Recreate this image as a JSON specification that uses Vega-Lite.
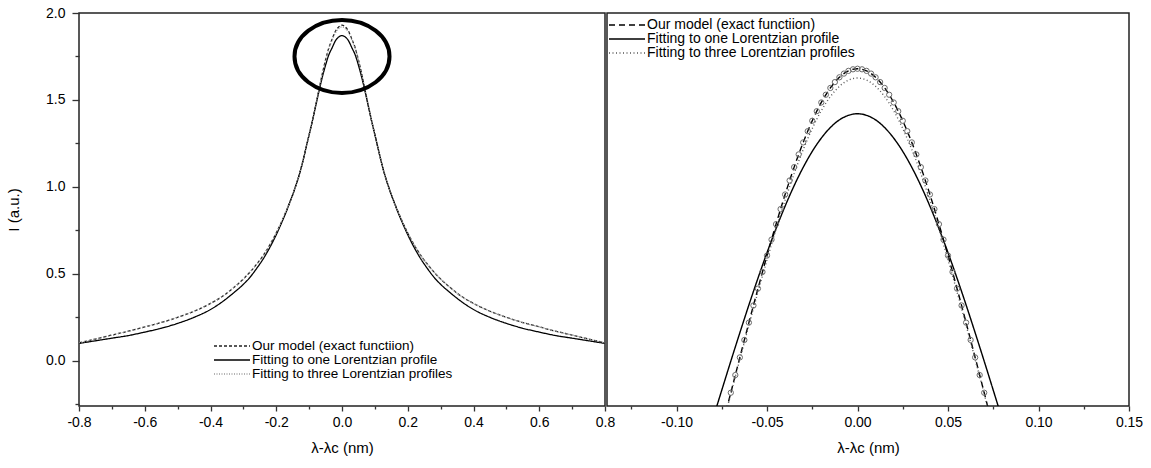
{
"$schema": "https://vega.github.io/schema/vega-lite/v6.json",
"background": "white",
"padding": {"left": 5, "top": 5, "right": 5, "bottom": 5},
"bounds": "flush",
"spacing": 2,
"config": {
  "font": "Liberation Sans",
  "view": {"stroke": "#222222", "strokeWidth": 1.5},
  "axis": {"labelFont": "Liberation Sans", "labelFontSize": 14, "labelColor": "#000000", "titleFont": "Liberation Sans", "titleFontSize": 15, "titleFontWeight": "normal", "titleColor": "#000000", "tickColor": "#333333", "tickWidth": 1.3, "domain": false, "grid": false},
  "legend": {"labelFont": "Liberation Sans", "labelColor": "#000000"}
},
"datasets": {
  "left": [
    {"s":"E","x":-0.8,"I":0.103},{"s":"E","x":-0.75,"I":0.125},{"s":"E","x":-0.7,"I":0.148},{"s":"E","x":-0.65,"I":0.17},{"s":"E","x":-0.6,"I":0.195},{"s":"E","x":-0.55,"I":0.22},{"s":"E","x":-0.5,"I":0.25},{"s":"E","x":-0.45,"I":0.285},{"s":"E","x":-0.4,"I":0.33},{"s":"E","x":-0.36,"I":0.375},{"s":"E","x":-0.33,"I":0.42},{"s":"E","x":-0.3,"I":0.47},{"s":"E","x":-0.28,"I":0.51},{"s":"E","x":-0.26,"I":0.555},{"s":"E","x":-0.24,"I":0.605},{"s":"E","x":-0.22,"I":0.665},{"s":"E","x":-0.2,"I":0.735},{"s":"E","x":-0.18,"I":0.815},{"s":"E","x":-0.17,"I":0.86},{"s":"E","x":-0.16,"I":0.905},{"s":"E","x":-0.15,"I":0.955},{"s":"E","x":-0.14,"I":1.01},{"s":"E","x":-0.13,"I":1.07},{"s":"E","x":-0.12,"I":1.14},{"s":"E","x":-0.11,"I":1.22},{"s":"E","x":-0.1,"I":1.3},{"s":"E","x":-0.09,"I":1.38},{"s":"E","x":-0.08,"I":1.47},{"s":"E","x":-0.07,"I":1.56},{"s":"E","x":-0.06,"I":1.65},{"s":"E","x":-0.05,"I":1.73},{"s":"E","x":-0.04,"I":1.8},{"s":"E","x":-0.03,"I":1.85},{"s":"E","x":-0.02,"I":1.895},{"s":"E","x":-0.01,"I":1.92},{"s":"E","x":0,"I":1.93},
    {"s":"E","x":0.01,"I":1.92},{"s":"E","x":0.02,"I":1.895},{"s":"E","x":0.03,"I":1.85},{"s":"E","x":0.04,"I":1.8},{"s":"E","x":0.05,"I":1.73},{"s":"E","x":0.06,"I":1.65},{"s":"E","x":0.07,"I":1.56},{"s":"E","x":0.08,"I":1.47},{"s":"E","x":0.09,"I":1.38},{"s":"E","x":0.1,"I":1.3},{"s":"E","x":0.11,"I":1.22},{"s":"E","x":0.12,"I":1.14},{"s":"E","x":0.13,"I":1.07},{"s":"E","x":0.14,"I":1.01},{"s":"E","x":0.15,"I":0.955},{"s":"E","x":0.16,"I":0.905},{"s":"E","x":0.17,"I":0.86},{"s":"E","x":0.18,"I":0.815},{"s":"E","x":0.2,"I":0.735},{"s":"E","x":0.22,"I":0.665},{"s":"E","x":0.24,"I":0.605},{"s":"E","x":0.26,"I":0.555},{"s":"E","x":0.28,"I":0.51},{"s":"E","x":0.3,"I":0.47},{"s":"E","x":0.33,"I":0.42},{"s":"E","x":0.36,"I":0.375},{"s":"E","x":0.4,"I":0.33},{"s":"E","x":0.45,"I":0.285},{"s":"E","x":0.5,"I":0.25},{"s":"E","x":0.55,"I":0.22},{"s":"E","x":0.6,"I":0.195},{"s":"E","x":0.65,"I":0.17},{"s":"E","x":0.7,"I":0.148},{"s":"E","x":0.75,"I":0.125},{"s":"E","x":0.8,"I":0.103},
    {"s":"L1","x":-0.8,"I":0.1},{"s":"L1","x":-0.75,"I":0.115},{"s":"L1","x":-0.7,"I":0.13},{"s":"L1","x":-0.65,"I":0.145},{"s":"L1","x":-0.6,"I":0.165},{"s":"L1","x":-0.55,"I":0.187},{"s":"L1","x":-0.5,"I":0.215},{"s":"L1","x":-0.45,"I":0.25},{"s":"L1","x":-0.4,"I":0.295},{"s":"L1","x":-0.36,"I":0.345},{"s":"L1","x":-0.33,"I":0.39},{"s":"L1","x":-0.3,"I":0.44},{"s":"L1","x":-0.28,"I":0.48},{"s":"L1","x":-0.26,"I":0.53},{"s":"L1","x":-0.24,"I":0.585},{"s":"L1","x":-0.22,"I":0.65},{"s":"L1","x":-0.2,"I":0.725},{"s":"L1","x":-0.18,"I":0.81},{"s":"L1","x":-0.17,"I":0.855},{"s":"L1","x":-0.16,"I":0.905},{"s":"L1","x":-0.15,"I":0.955},{"s":"L1","x":-0.14,"I":1.01},{"s":"L1","x":-0.13,"I":1.07},{"s":"L1","x":-0.12,"I":1.14},{"s":"L1","x":-0.11,"I":1.22},{"s":"L1","x":-0.1,"I":1.3},{"s":"L1","x":-0.09,"I":1.38},{"s":"L1","x":-0.08,"I":1.465},{"s":"L1","x":-0.07,"I":1.55},{"s":"L1","x":-0.06,"I":1.63},{"s":"L1","x":-0.05,"I":1.7},{"s":"L1","x":-0.04,"I":1.76},{"s":"L1","x":-0.03,"I":1.8},{"s":"L1","x":-0.02,"I":1.84},{"s":"L1","x":-0.01,"I":1.862},{"s":"L1","x":0,"I":1.87},
    {"s":"L1","x":0.01,"I":1.862},{"s":"L1","x":0.02,"I":1.84},{"s":"L1","x":0.03,"I":1.8},{"s":"L1","x":0.04,"I":1.76},{"s":"L1","x":0.05,"I":1.7},{"s":"L1","x":0.06,"I":1.63},{"s":"L1","x":0.07,"I":1.55},{"s":"L1","x":0.08,"I":1.465},{"s":"L1","x":0.09,"I":1.38},{"s":"L1","x":0.1,"I":1.3},{"s":"L1","x":0.11,"I":1.22},{"s":"L1","x":0.12,"I":1.14},{"s":"L1","x":0.13,"I":1.07},{"s":"L1","x":0.14,"I":1.01},{"s":"L1","x":0.15,"I":0.955},{"s":"L1","x":0.16,"I":0.905},{"s":"L1","x":0.17,"I":0.855},{"s":"L1","x":0.18,"I":0.81},{"s":"L1","x":0.2,"I":0.725},{"s":"L1","x":0.22,"I":0.65},{"s":"L1","x":0.24,"I":0.585},{"s":"L1","x":0.26,"I":0.53},{"s":"L1","x":0.28,"I":0.48},{"s":"L1","x":0.3,"I":0.44},{"s":"L1","x":0.33,"I":0.39},{"s":"L1","x":0.36,"I":0.345},{"s":"L1","x":0.4,"I":0.295},{"s":"L1","x":0.45,"I":0.25},{"s":"L1","x":0.5,"I":0.215},{"s":"L1","x":0.55,"I":0.187},{"s":"L1","x":0.6,"I":0.165},{"s":"L1","x":0.65,"I":0.145},{"s":"L1","x":0.7,"I":0.13},{"s":"L1","x":0.75,"I":0.115},{"s":"L1","x":0.8,"I":0.1},
    {"s":"L3","x":-0.8,"I":0.103},{"s":"L3","x":-0.75,"I":0.125},{"s":"L3","x":-0.7,"I":0.148},{"s":"L3","x":-0.65,"I":0.17},{"s":"L3","x":-0.6,"I":0.195},{"s":"L3","x":-0.55,"I":0.22},{"s":"L3","x":-0.5,"I":0.25},{"s":"L3","x":-0.45,"I":0.285},{"s":"L3","x":-0.4,"I":0.33},{"s":"L3","x":-0.36,"I":0.375},{"s":"L3","x":-0.33,"I":0.42},{"s":"L3","x":-0.3,"I":0.47},{"s":"L3","x":-0.28,"I":0.51},{"s":"L3","x":-0.26,"I":0.555},{"s":"L3","x":-0.24,"I":0.605},{"s":"L3","x":-0.22,"I":0.665},{"s":"L3","x":-0.2,"I":0.735},{"s":"L3","x":-0.18,"I":0.815},{"s":"L3","x":-0.17,"I":0.86},{"s":"L3","x":-0.16,"I":0.905},{"s":"L3","x":-0.15,"I":0.955},{"s":"L3","x":-0.14,"I":1.01},{"s":"L3","x":-0.13,"I":1.07},{"s":"L3","x":-0.12,"I":1.14},{"s":"L3","x":-0.11,"I":1.22},{"s":"L3","x":-0.1,"I":1.3},{"s":"L3","x":-0.09,"I":1.38},{"s":"L3","x":-0.08,"I":1.47},{"s":"L3","x":-0.07,"I":1.56},{"s":"L3","x":-0.06,"I":1.648},{"s":"L3","x":-0.05,"I":1.727},{"s":"L3","x":-0.04,"I":1.795},{"s":"L3","x":-0.03,"I":1.843},{"s":"L3","x":-0.02,"I":1.886},{"s":"L3","x":-0.01,"I":1.91},{"s":"L3","x":0,"I":1.92},
    {"s":"L3","x":0.01,"I":1.91},{"s":"L3","x":0.02,"I":1.886},{"s":"L3","x":0.03,"I":1.843},{"s":"L3","x":0.04,"I":1.795},{"s":"L3","x":0.05,"I":1.727},{"s":"L3","x":0.06,"I":1.648},{"s":"L3","x":0.07,"I":1.56},{"s":"L3","x":0.08,"I":1.47},{"s":"L3","x":0.09,"I":1.38},{"s":"L3","x":0.1,"I":1.3},{"s":"L3","x":0.11,"I":1.22},{"s":"L3","x":0.12,"I":1.14},{"s":"L3","x":0.13,"I":1.07},{"s":"L3","x":0.14,"I":1.01},{"s":"L3","x":0.15,"I":0.955},{"s":"L3","x":0.16,"I":0.905},{"s":"L3","x":0.17,"I":0.86},{"s":"L3","x":0.18,"I":0.815},{"s":"L3","x":0.2,"I":0.735},{"s":"L3","x":0.22,"I":0.665},{"s":"L3","x":0.24,"I":0.605},{"s":"L3","x":0.26,"I":0.555},{"s":"L3","x":0.28,"I":0.51},{"s":"L3","x":0.3,"I":0.47},{"s":"L3","x":0.33,"I":0.42},{"s":"L3","x":0.36,"I":0.375},{"s":"L3","x":0.4,"I":0.33},{"s":"L3","x":0.45,"I":0.285},{"s":"L3","x":0.5,"I":0.25},{"s":"L3","x":0.55,"I":0.22},{"s":"L3","x":0.6,"I":0.195},{"s":"L3","x":0.65,"I":0.17},{"s":"L3","x":0.7,"I":0.148},{"s":"L3","x":0.75,"I":0.125},{"s":"L3","x":0.8,"I":0.103}
  ],
  "ellipse": [{"x": 0, "I": 1.75}],
  "right": [
    {"s":"E","x":-0.085,"I":1.3208},{"s":"E","x":-0.08,"I":1.3697},{"s":"E","x":-0.075,"I":1.4191},{"s":"E","x":-0.07,"I":1.4686},{"s":"E","x":-0.065,"I":1.518},{"s":"E","x":-0.06,"I":1.5667},{"s":"E","x":-0.055,"I":1.6143},{"s":"E","x":-0.05,"I":1.6605},{"s":"E","x":-0.045,"I":1.7045},{"s":"E","x":-0.04,"I":1.746},{"s":"E","x":-0.035,"I":1.7843},{"s":"E","x":-0.03,"I":1.8189},{"s":"E","x":-0.025,"I":1.8492},{"s":"E","x":-0.02,"I":1.8748},{"s":"E","x":-0.015,"I":1.8951},{"s":"E","x":-0.01,"I":1.91},{"s":"E","x":-0.005,"I":1.919},{"s":"E","x":0,"I":1.922},
    {"s":"E","x":0.005,"I":1.919},{"s":"E","x":0.01,"I":1.91},{"s":"E","x":0.015,"I":1.8951},{"s":"E","x":0.02,"I":1.8748},{"s":"E","x":0.025,"I":1.8492},{"s":"E","x":0.03,"I":1.8189},{"s":"E","x":0.035,"I":1.7843},{"s":"E","x":0.04,"I":1.746},{"s":"E","x":0.045,"I":1.7045},{"s":"E","x":0.05,"I":1.6605},{"s":"E","x":0.055,"I":1.6143},{"s":"E","x":0.06,"I":1.5667},{"s":"E","x":0.065,"I":1.518},{"s":"E","x":0.07,"I":1.4686},{"s":"E","x":0.075,"I":1.4191},{"s":"E","x":0.08,"I":1.3697},{"s":"E","x":0.085,"I":1.3208},
    {"s":"L1","x":-0.085,"I":1.3898},{"s":"L1","x":-0.08,"I":1.4311},{"s":"L1","x":-0.075,"I":1.4721},{"s":"L1","x":-0.07,"I":1.5127},{"s":"L1","x":-0.065,"I":1.5525},{"s":"L1","x":-0.06,"I":1.5914},{"s":"L1","x":-0.055,"I":1.6288},{"s":"L1","x":-0.05,"I":1.6646},{"s":"L1","x":-0.045,"I":1.6983},{"s":"L1","x":-0.04,"I":1.7297},{"s":"L1","x":-0.035,"I":1.7584},{"s":"L1","x":-0.03,"I":1.784},{"s":"L1","x":-0.025,"I":1.8063},{"s":"L1","x":-0.02,"I":1.8249},{"s":"L1","x":-0.015,"I":1.8397},{"s":"L1","x":-0.01,"I":1.8504},{"s":"L1","x":-0.005,"I":1.8568},{"s":"L1","x":0,"I":1.859},
    {"s":"L1","x":0.005,"I":1.8568},{"s":"L1","x":0.01,"I":1.8504},{"s":"L1","x":0.015,"I":1.8397},{"s":"L1","x":0.02,"I":1.8249},{"s":"L1","x":0.025,"I":1.8063},{"s":"L1","x":0.03,"I":1.784},{"s":"L1","x":0.035,"I":1.7584},{"s":"L1","x":0.04,"I":1.7297},{"s":"L1","x":0.045,"I":1.6983},{"s":"L1","x":0.05,"I":1.6646},{"s":"L1","x":0.055,"I":1.6288},{"s":"L1","x":0.06,"I":1.5914},{"s":"L1","x":0.065,"I":1.5525},{"s":"L1","x":0.07,"I":1.5127},{"s":"L1","x":0.075,"I":1.4721},{"s":"L1","x":0.08,"I":1.4311},{"s":"L1","x":0.085,"I":1.3898},
    {"s":"L3","x":-0.085,"I":1.3217},{"s":"L3","x":-0.08,"I":1.3698},{"s":"L3","x":-0.075,"I":1.4183},{"s":"L3","x":-0.07,"I":1.4669},{"s":"L3","x":-0.065,"I":1.5153},{"s":"L3","x":-0.06,"I":1.563},{"s":"L3","x":-0.055,"I":1.6096},{"s":"L3","x":-0.05,"I":1.6546},{"s":"L3","x":-0.045,"I":1.6976},{"s":"L3","x":-0.04,"I":1.738},{"s":"L3","x":-0.035,"I":1.7753},{"s":"L3","x":-0.03,"I":1.8089},{"s":"L3","x":-0.025,"I":1.8383},{"s":"L3","x":-0.02,"I":1.8632},{"s":"L3","x":-0.015,"I":1.8829},{"s":"L3","x":-0.01,"I":1.8973},{"s":"L3","x":-0.005,"I":1.9061},{"s":"L3","x":0,"I":1.909},
    {"s":"L3","x":0.005,"I":1.9061},{"s":"L3","x":0.01,"I":1.8973},{"s":"L3","x":0.015,"I":1.8829},{"s":"L3","x":0.02,"I":1.8632},{"s":"L3","x":0.025,"I":1.8383},{"s":"L3","x":0.03,"I":1.8089},{"s":"L3","x":0.035,"I":1.7753},{"s":"L3","x":0.04,"I":1.738},{"s":"L3","x":0.045,"I":1.6976},{"s":"L3","x":0.05,"I":1.6546},{"s":"L3","x":0.055,"I":1.6096},{"s":"L3","x":0.06,"I":1.563},{"s":"L3","x":0.065,"I":1.5153},{"s":"L3","x":0.07,"I":1.4669},{"s":"L3","x":0.075,"I":1.4183},{"s":"L3","x":0.08,"I":1.3698},{"s":"L3","x":0.085,"I":1.3217}
  ],
  "circles": [
    {"x":-0.0725,"I":1.4438},{"x":-0.07,"I":1.4686},{"x":-0.0675,"I":1.4933},{"x":-0.065,"I":1.518},{"x":-0.0625,"I":1.5424},{"x":-0.06,"I":1.5667},{"x":-0.0575,"I":1.5907},{"x":-0.055,"I":1.6143},{"x":-0.0525,"I":1.6376},{"x":-0.05,"I":1.6605},{"x":-0.0475,"I":1.6828},{"x":-0.045,"I":1.7045},{"x":-0.0425,"I":1.7256},{"x":-0.04,"I":1.746},{"x":-0.0375,"I":1.7656},{"x":-0.035,"I":1.7843},{"x":-0.0325,"I":1.8021},{"x":-0.03,"I":1.8189},{"x":-0.0275,"I":1.8346},{"x":-0.025,"I":1.8492},{"x":-0.0225,"I":1.8626},{"x":-0.02,"I":1.8748},{"x":-0.0175,"I":1.8856},{"x":-0.015,"I":1.8951},{"x":-0.0125,"I":1.9033},{"x":-0.01,"I":1.91},{"x":-0.0075,"I":1.9152},{"x":-0.005,"I":1.919},{"x":-0.0025,"I":1.9212},{"x":0,"I":1.922},
    {"x":0.0025,"I":1.9212},{"x":0.005,"I":1.919},{"x":0.0075,"I":1.9152},{"x":0.01,"I":1.91},{"x":0.0125,"I":1.9033},{"x":0.015,"I":1.8951},{"x":0.0175,"I":1.8856},{"x":0.02,"I":1.8748},{"x":0.0225,"I":1.8626},{"x":0.025,"I":1.8492},{"x":0.0275,"I":1.8346},{"x":0.03,"I":1.8189},{"x":0.0325,"I":1.8021},{"x":0.035,"I":1.7843},{"x":0.0375,"I":1.7656},{"x":0.04,"I":1.746},{"x":0.0425,"I":1.7256},{"x":0.045,"I":1.7045},{"x":0.0475,"I":1.6828},{"x":0.05,"I":1.6605},{"x":0.0525,"I":1.6376},{"x":0.055,"I":1.6143},{"x":0.0575,"I":1.5907},{"x":0.06,"I":1.5667},{"x":0.0625,"I":1.5424},{"x":0.065,"I":1.518},{"x":0.0675,"I":1.4933},{"x":0.07,"I":1.4686},{"x":0.0725,"I":1.4438}
  ]
},
"resolve": {"scale": {"color": "independent", "strokeDash": "independent"}, "legend": {"color": "independent", "strokeDash": "independent"}},
"hconcat": [
  {
    "width": 526, "height": 393,
    "encoding": {
      "x": {"field": "x", "type": "quantitative", "title": "λ-λc (nm)",
        "scale": {"domain": [-0.8, 0.8], "nice": false, "zero": false},
        "axis": {"values": [-0.8,-0.7,-0.6,-0.5,-0.4,-0.3,-0.2,-0.1,0,0.1,0.2,0.3,0.4,0.5,0.6,0.7,0.8],
          "labelExpr": "round(datum.value*10)%2==0 ? replace(format(datum.value,'.1f'),'\u2212','-') : ''",
          "labelFlush": false, "labelOverlap": false,
          "tickSize": {"condition": {"test": "round(datum.value*10)%2!=0", "value": 3}, "value": 5},
          "labelPadding": 4, "titlePadding": 11}},
      "y": {"field": "I", "type": "quantitative", "title": "I (a.u.)",
        "scale": {"domain": [-0.26, 2.0], "nice": false, "zero": false},
        "axis": {"values": [-0.25,0,0.25,0.5,0.75,1,1.25,1.5,1.75,2],
          "labelExpr": "round(datum.value*4)%2==0 ? replace(format(datum.value,'.1f'),'\u2212','-') : ''",
          "labelOverlap": false,
          "tickSize": {"condition": {"test": "round(datum.value*4)%2!=0", "value": 4}, "value": 7},
          "labelPadding": 7, "titlePadding": 24}}
    },
    "layer": [
      {
        "data": {"name": "left"},
        "mark": {"type": "line", "strokeWidth": 1.3, "clip": true, "interpolate": "monotone"},
        "encoding": {
          "color": {"field": "s", "type": "nominal",
            "scale": {"domain": ["E","L1","L3"], "range": ["#222222","#000000","#9a9a9a"]},
            "legend": {"orient": "none", "legendX": 146, "legendY": 326, "title": null, "symbolType": "M-3,0L3,0", "symbolSize": 144, "symbolStrokeWidth": 1.3, "labelFontSize": 13.5, "labelOffset": 13, "labelLimit": 400, "rowPadding": 0, "padding": 0,
              "labelExpr": "datum.value == 'E' ? 'Our model (exact functiion)' : datum.value == 'L1' ? 'Fitting to one Lorentzian profile' : 'Fitting to three Lorentzian profiles'"}},
          "strokeDash": {"field": "s", "type": "nominal",
            "scale": {"domain": ["E","L1","L3"], "range": [[3,2],[1,0],[1,1.5]]},
            "legend": {"orient": "none", "legendX": 146, "legendY": 326, "title": null, "symbolType": "M-3,0L3,0", "symbolSize": 144, "symbolStrokeWidth": 1.3, "labelFontSize": 13.5, "labelOffset": 13, "labelLimit": 400, "rowPadding": 0, "padding": 0,
              "labelExpr": "datum.value == 'E' ? 'Our model (exact functiion)' : datum.value == 'L1' ? 'Fitting to one Lorentzian profile' : 'Fitting to three Lorentzian profiles'"}}
        }
      },
      {
        "data": {"name": "ellipse"},
        "mark": {"type": "point", "shape": "M-1,0A1,0.768,0,1,0,1,0A1,0.768,0,1,0,-1,0Z", "size": 9025, "filled": false, "stroke": "#000000", "strokeWidth": 4, "opacity": 1}
      }
    ]
  },
  {
    "width": 522, "height": 393,
    "encoding": {
      "x": {"field": "x", "type": "quantitative", "title": "λ-λc (nm)",
        "scale": {"domain": [-0.1384, 0.15], "nice": false, "zero": false},
        "axis": {"values": [-0.125,-0.1,-0.075,-0.05,-0.025,0,0.025,0.05,0.075,0.1,0.125,0.15],
          "labelExpr": "round(datum.value*40)%2==0 ? replace(format(datum.value,'.2f'),'\u2212','-') : ''",
          "labelFlush": false, "labelOverlap": false,
          "tickSize": {"condition": {"test": "round(datum.value*40)%2!=0", "value": 3}, "value": 5},
          "labelPadding": 4, "titlePadding": 11}},
      "y": {"field": "I", "type": "quantitative",
        "scale": {"domain": [1.45, 2.0], "nice": false, "zero": false},
        "axis": null}
    },
    "layer": [
      {
        "data": {"name": "right"},
        "mark": {"type": "line", "strokeWidth": 1.4, "clip": true, "interpolate": "monotone"},
        "encoding": {
          "color": {"field": "s", "type": "nominal",
            "scale": {"domain": ["E","L1","L3"], "range": ["#000000","#000000","#555555"]},
            "legend": {"orient": "none", "legendX": 13, "legendY": 5, "title": null, "symbolType": "M-3,0L3,0", "symbolSize": 144, "symbolStrokeWidth": 1.4, "labelFontSize": 14, "labelOffset": 13, "labelLimit": 400, "rowPadding": 0, "padding": 0,
              "labelExpr": "datum.value == 'E' ? 'Our model (exact functiion)' : datum.value == 'L1' ? 'Fitting to one Lorentzian profile' : 'Fitting to three Lorentzian profiles'"}},
          "strokeDash": {"field": "s", "type": "nominal",
            "scale": {"domain": ["E","L1","L3"], "range": [[6,4],[1,0],[1,2.5]]},
            "legend": {"orient": "none", "legendX": 13, "legendY": 5, "title": null, "symbolType": "M-3,0L3,0", "symbolSize": 144, "symbolStrokeWidth": 1.4, "labelFontSize": 14, "labelOffset": 13, "labelLimit": 400, "rowPadding": 0, "padding": 0,
              "labelExpr": "datum.value == 'E' ? 'Our model (exact functiion)' : datum.value == 'L1' ? 'Fitting to one Lorentzian profile' : 'Fitting to three Lorentzian profiles'"}}
        }
      },
      {
        "data": {"name": "circles"},
        "mark": {"type": "point", "shape": "circle", "size": 28, "filled": false, "stroke": "#6a6a6a", "strokeWidth": 1, "opacity": 1, "clip": true}
      }
    ]
  }
]
}
